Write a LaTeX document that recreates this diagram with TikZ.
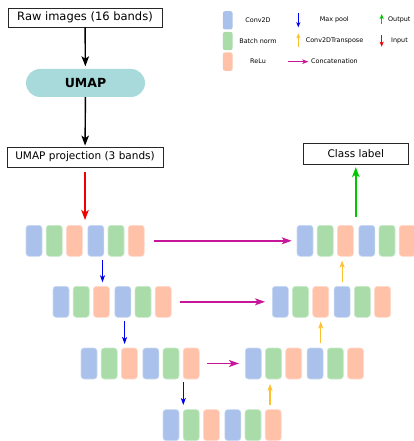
\documentclass[tikz,border=0pt]{standalone}
\usepackage{fontspec}
\setmainfont{DejaVu Sans}
\usetikzlibrary{arrows.meta,calc}
\definecolor{cblue}{HTML}{A9C1EB}
\definecolor{cgreen}{HTML}{A9DCA9}
\definecolor{csalmon}{HTML}{FFC1A8}
\definecolor{cpill}{HTML}{A8DADC}
\definecolor{cmag}{HTML}{C8169B}
\definecolor{cyel}{HTML}{FFC030}
\definecolor{cgrn}{HTML}{00C800}
\definecolor{cbl}{HTML}{0000F0}
\definecolor{cred}{HTML}{F00000}
\newcommand{\blockrow}[3]{%
  \foreach \o/\c/\s in {0/cblue/a,20.2/cgreen/b,40.4/csalmon/c,61.8/cblue/d,82/cgreen/e,102.2/csalmon/f}{%
    \node[blk,fill=\c,draw=\c!60!white,anchor=north west] (#1\s) at (#2+\o,#3) {};
  }}
\begin{document}
\begin{tikzpicture}[x=1pt,y=-1pt,
  blk/.style={minimum width=16pt,minimum height=31pt,inner sep=0pt,rounded corners=3pt,line width=0.6pt},
  sw/.style={minimum width=9.6pt,minimum height=18.3pt,inner sep=0pt,rounded corners=2pt,anchor=north west},
  box/.style={draw=black!85,line width=0.8pt,inner sep=0pt},
  lg/.style={font=\fontsize{6.4}{7}\selectfont,inner sep=0pt},
  blackarr/.style={-{Stealth[length=10pt,width=7.5pt,inset=2.5pt]},line width=1.4pt,black},
  redarr/.style={-{Stealth[length=10pt,width=7.5pt,inset=2.5pt]},line width=1.4pt,cred},
  greenarr/.style={-{Stealth[length=10pt,width=7.5pt,inset=2.5pt]},line width=1.4pt,cgrn},
  cat/.style={-{Stealth[length=10pt,width=7pt,inset=2.5pt]},line width=1.4pt,cmag},
  pool/.style={-{Stealth[length=7pt,width=5pt,inset=1.8pt]},line width=1.2pt,cbl},
  tr/.style={-{Stealth[length=7pt,width=5pt,inset=1.8pt]},line width=1.2pt,cyel},
  lpool/.style={-{Stealth[length=5pt,width=4pt,inset=1.2pt]},line width=0.9pt,cbl},
  ltr/.style={-{Stealth[length=5pt,width=4pt,inset=1.2pt]},line width=0.9pt,cyel},
  lgrn/.style={-{Stealth[length=5pt,width=4pt,inset=1.2pt]},line width=0.9pt,cgrn},
  lred/.style={-{Stealth[length=5pt,width=4pt,inset=1.2pt]},line width=0.9pt,cred},
  lcat/.style={-{Stealth[length=6pt,width=4.5pt,inset=1.5pt]},line width=0.9pt,cmag},
]
\useasboundingbox (0,0) rectangle (413,441);

% main pipeline
\node[box,minimum width=154pt,minimum height=19pt,font=\fontsize{11.5}{13}\selectfont] (raw) at (85,17.5) {Raw images (16 bands)};
\node[fill=cpill,minimum width=119pt,minimum height=28pt,rounded corners=14pt,inner sep=0pt,font=\fontsize{12.5}{14}\selectfont\bfseries] (umap) at (85.5,83) {UMAP};
\node[box,minimum width=156pt,minimum height=20pt,font=\fontsize{10.5}{12}\selectfont] (proj) at (85,157) {UMAP projection (3 bands)};
\node[box,minimum width=105pt,minimum height=20.7pt,font=\fontsize{10.5}{12}\selectfont] (cls) at (355.8,153.7) {Class label};

% block rows
\blockrow{L1}{25.7}{225}
\blockrow{R1}{296.7}{225}
\blockrow{L2}{52.7}{286}
\blockrow{R2}{272}{286}
\blockrow{L3}{80.7}{347.7}
\blockrow{R3}{245}{347.7}
\blockrow{B}{162.7}{409.3}

% pipeline arrows
\draw[blackarr,shorten >=2.5pt] (raw) -- (umap);
\draw[blackarr,shorten >=1pt] (umap) -- (proj);
\draw[redarr,shorten <=5pt,shorten >=5pt] (proj.south) -- (proj.south |- L1a.north);
\draw[greenarr,shorten <=7.7pt,shorten >=2.7pt] (cls.south |- R1a.north) -- (cls.south);

% concatenations
\draw[cat,shorten <=9pt,shorten >=5pt] (L1f.east) -- (R1a.west);
\draw[cat,shorten <=8.7pt,shorten >=7pt] (L2f.east) -- (R2a.west);
\draw[cat,shorten <=7.7pt,shorten >=6pt] (L3f.east) -- (R3a.west);

% max pool
\draw[pool,shorten <=3pt,shorten >=3.7pt] ([xshift=6.7pt]L1d.south) -- ([xshift=6.7pt]L1d.south |- L2a.north);
\draw[pool,shorten <=3pt,shorten >=3.7pt] ([xshift=1.8pt]L2d.south) -- ([xshift=1.8pt]L2d.south |- L3a.north);
\draw[pool,shorten <=3pt,shorten >=4.3pt] ([xshift=-7.9pt]L3f.south) -- ([xshift=-7.9pt]L3f.south |- Ba.north);

% transpose
\draw[tr,shorten <=4pt,shorten >=4pt] (R2d.north) -- (R2d.north |- R1a.south);
\draw[tr,shorten <=5pt,shorten >=4pt] (R2c.south |- R3a.north) -- (R2c.south);
\draw[tr,shorten <=4.3pt,shorten >=4.6pt] ([xshift=-3.5pt]R3b.south |- Ba.north) -- ([xshift=-3.5pt]R3b.south);

% legend
\node[sw,fill=cblue] (lc) at (222.7,11) {};
\node[sw,fill=cgreen] (lb) at (222.7,31.7) {};
\node[sw,fill=csalmon] (lr) at (222.7,52.3) {};
\node[lg] (tc) at (258,20) {Conv2D};
\node[lg] (tb) at (258,41) {Batch norm};
\node[lg] (tr) at (258,61.5) {ReLu};
\node[lg] (tm) at (334.3,19.5) {Max pool};
\node[lg] (tt) at (334.5,41) {Conv2DTranspose};
\node[lg,anchor=west] (to) at (388,19.5) {Output};
\node[lg,anchor=west] (ti) at (391,41) {Input};
\node[lg,anchor=west] (tcat) at (311,61.5) {Concatenation};
\coordinate (pa) at (298.3,13);   \coordinate (pb) at (298.3,27.3);
\coordinate (ya) at (298.3,46.7); \coordinate (yb) at (298.3,33.3);
\coordinate (ga) at (381.7,24);   \coordinate (gb) at (381.7,14);
\coordinate (ra) at (381.7,35);   \coordinate (rb) at (381.7,46.7);
\coordinate (ma) at (288.3,61.7); \coordinate (mb) at (308.3,61.7);
\draw[lpool] (pa) -- (pb);
\draw[ltr] (ya) -- (yb);
\draw[lgrn] (ga) -- (gb);
\draw[lred] (ra) -- (rb);
\draw[lcat] (ma) -- (mb);
\end{tikzpicture}
\end{document}
